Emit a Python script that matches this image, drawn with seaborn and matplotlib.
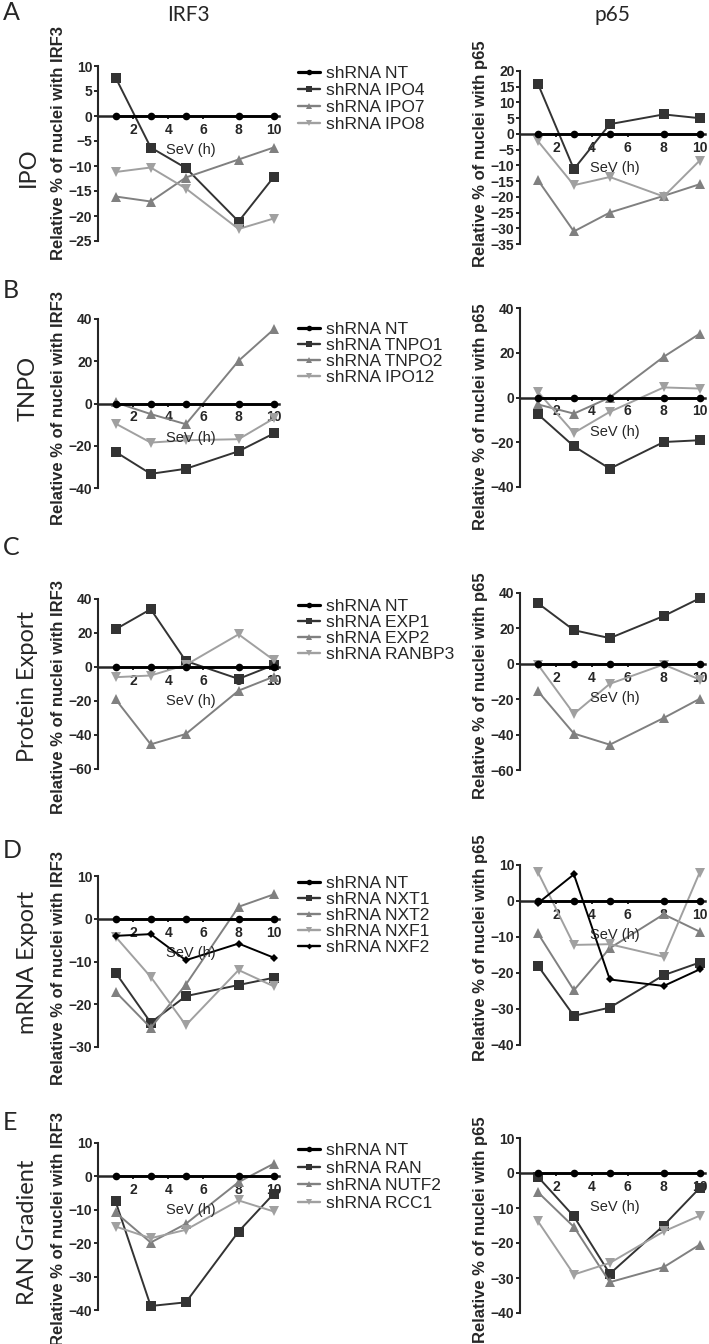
import matplotlib
matplotlib.use("Agg")
import pandas as pd
import seaborn as sns
import matplotlib.pyplot as plt
from matplotlib.lines import Line2D

# time points (SeV, hours)
hours = [1, 3, 5, 8, 10]

# A - IPO
ipo_names = ["shRNA NT", "shRNA IPO4", "shRNA IPO7", "shRNA IPO8"]
ipo_irf3 = [[0, 0, 0, 0, 0],
            [7.7, -6.3, -10.4, -21.1, -12.2],
            [-16.1, -17.1, -12.3, -8.7, -6.3],
            [-11.2, -10.3, -14.5, -22.6, -20.5]]
ipo_p65 = [[0, 0, 0, 0, 0],
           [15.9, -11.2, 3.1, 6.2, 5.0],
           [-14.7, -31.0, -25.0, -19.7, -16.0],
           [-2.3, -16.3, -13.7, -19.9, -8.5]]

# B - TNPO
tnpo_names = ["shRNA NT", "shRNA TNPO1", "shRNA TNPO2", "shRNA IPO12"]
tnpo_irf3 = [[0, 0, 0, 0, 0],
             [-22.9, -33.3, -30.9, -22.6, -14.2],
             [0.5, -5.0, -9.8, 20.2, 35.1],
             [-9.5, -18.5, -17.4, -16.9, -7.1]]
tnpo_p65 = [[0, 0, 0, 0, 0],
            [-7.5, -21.8, -31.8, -19.9, -19.1],
            [-3.1, -7.2, 0.0, 18.2, 28.5],
            [2.5, -15.8, -6.4, 4.5, 4.0]]

# C - Protein export
pexp_names = ["shRNA NT", "shRNA EXP1", "shRNA EXP2", "shRNA RANBP3"]
pexp_irf3 = [[0, 0, 0, 0, 0],
             [22.2, 34.0, 3.5, -7.0, 1.2],
             [-19.0, -45.5, -39.4, -13.9, -5.7],
             [-6.0, -5.0, 1.2, 19.2, 4.1]]
pexp_p65 = [[0, 0, 0, 0, 0],
            [34.2, 19.0, 14.5, 27.0, 37.0],
            [-15.5, -39.4, -45.7, -30.6, -19.8],
            [-0.5, -28.3, -11.3, -0.4, -8.9]]

# D - mRNA export
mexp_names = ["shRNA NT", "shRNA NXT1", "shRNA NXT2", "shRNA NXF1", "shRNA NXF2"]
mexp_irf3 = [[0, 0, 0, 0, 0],
             [-12.6, -24.3, -18.1, -15.5, -13.8],
             [-17.1, -25.5, -15.4, 2.8, 5.7],
             [-4.2, -13.6, -24.9, -12.0, -15.8],
             [-4.0, -3.6, -9.7, -5.8, -9.1]]
mexp_p65 = [[0, 0, 0, 0, 0],
            [-18.0, -31.9, -29.6, -20.6, -17.1],
            [-9.0, -24.8, -13.1, -3.7, -8.5],
            [8.0, -12.2, -12.0, -15.5, 7.9],
            [-0.6, 7.4, -21.8, -23.6, -19.0]]

# E - RAN gradient
ran_names = ["shRNA NT", "shRNA RAN", "shRNA NUTF2", "shRNA RCC1"]
ran_irf3 = [[0, 0, 0, 0, 0],
            [-7.5, -38.8, -37.7, -16.5, -5.2],
            [-10.8, -19.8, -14.2, -1.7, 3.8],
            [-15.0, -18.5, -16.0, -7.2, -10.5]]
ran_p65 = [[0, 0, 0, 0, 0],
           [-1.1, -12.4, -28.8, -15.0, -4.3],
           [-5.5, -15.4, -31.2, -26.9, -20.5],
           [-13.8, -29.0, -25.7, -16.7, -12.2]]

row_letters = ["A", "B", "C", "D", "E"]
row_titles = ["IPO", "TNPO", "Protein Export", "mRNA Export", "RAN Gradient"]

irf3_yticks = [list(range(-25, 11, 5)), list(range(-40, 41, 20)), list(range(-60, 41, 20)),
               list(range(-30, 11, 10)), list(range(-40, 11, 10))]
p65_yticks = [list(range(-35, 21, 5)), list(range(-40, 41, 20)), list(range(-60, 41, 20)),
              list(range(-40, 11, 10)), list(range(-40, 11, 10))]

sns.set_style("ticks")
plt.rcParams["font.family"] = ["Liberation Sans", "DejaVu Sans"]

W, H = 709, 1344
fig = plt.figure(figsize=(W / 100, H / 100), dpi=100)
fig.patch.set_facecolor("white")

colors = ["#000000", "#333333", "#808080", "#a0a0a0", "#000000"]
markers = ["o", "s", "^", "v", "D"]
msizes = [5.5, 6.5, 6.5, 6.5, 4.5]
lwidths = [2.0, 1.4, 1.4, 1.4, 1.4]

# axes extents in pixels: (top, bottom) for left (IRF3) and right (p65) panels
left_px = [(66, 241), (319, 488), (599, 769), (876, 1047), (1143, 1310)]
right_px = [(71, 244), (308, 487), (593, 770), (865, 1045), (1138, 1313)]
ylab_left = [143, 408, 697, 968, 1229]
ylab_right = [154, 417, 686, 948, 1230]
letter_y = [12, 290, 547, 851, 1122]
rowlab_y = [167, 388, 687, 962, 1232]
legend_top = [66, 322, 599, 876, 1143]
legend_spacing = [0.1, 0.05, 0.05, 0.05, 0.14]


def add_axes_px(x0, x1, top, bottom):
    return fig.add_axes([x0 / W, 1 - bottom / H, (x1 - x0) / W, (bottom - top) / H])


def draw_panel(ax, names, values, yticks):
    for i, (name, vals) in enumerate(zip(names, values)):
        df = pd.DataFrame({"SeV": hours, "value": vals})
        sns.lineplot(data=df, x="SeV", y="value", ax=ax, color=colors[i], marker=markers[i],
                     markersize=msizes[i], markeredgewidth=0, linewidth=lwidths[i],
                     errorbar=None, legend=False, zorder=3 if i == 0 else 2)
    for ln in ax.lines:
        ln.set_clip_on(False)
    ax.set_xlim(0, 10.3)
    ax.set_ylim(yticks[0], yticks[-1])
    ax.set_xticks([2, 4, 6, 8, 10])
    ax.set_yticks(yticks)
    ax.set_xlabel("")
    ax.set_ylabel("")
    ax.spines["top"].set_visible(False)
    ax.spines["right"].set_visible(False)
    ax.spines["bottom"].set_position(("data", 0))
    ax.spines["bottom"].set_linewidth(1.8)
    ax.spines["left"].set_linewidth(1.5)
    ax.tick_params(axis="y", length=3, width=1.4, pad=1, labelsize=10)
    ax.tick_params(axis="x", length=2.5, width=1.4, pad=2.5, labelsize=10)
    for lab in ax.get_xticklabels() + ax.get_yticklabels():
        lab.set_fontweight("bold")
    ax.annotate("SeV (h)", xy=(5.3, 0), xycoords="data", xytext=(0, -24.5),
                textcoords="offset points", ha="center", va="center", fontsize=10.5)
    ax.set_facecolor("none")


panels = [(ipo_names, ipo_irf3, ipo_p65), (tnpo_names, tnpo_irf3, tnpo_p65),
          (pexp_names, pexp_irf3, pexp_p65), (mexp_names, mexp_irf3, mexp_p65),
          (ran_names, ran_irf3, ran_p65)]

for r, (names, irf3, p65) in enumerate(panels):
    axL = add_axes_px(98, 279, *left_px[r])
    axR = add_axes_px(520, 705, *right_px[r])
    draw_panel(axL, names, irf3, irf3_yticks[r])
    draw_panel(axR, names, p65, p65_yticks[r])

    fig.text(59 / W, 1 - ylab_left[r] / H, "Relative % of nuclei with IRF3", rotation=90,
             ha="center", va="center", fontsize=12, fontweight="bold")
    fig.text(481 / W, 1 - ylab_right[r] / H, "Relative % of nuclei with p65", rotation=90,
             ha="center", va="center", fontsize=12, fontweight="bold")

    fig.text(3 / W, 1 - letter_y[r] / H, row_letters[r], ha="left", va="center",
             fontsize=18, family=["Lato", "DejaVu Sans"])
    fig.text(28 / W, 1 - rowlab_y[r] / H, row_titles[r], rotation=90, ha="center",
             va="center", fontsize=17, family=["Lato", "DejaVu Sans"])

    handles = [Line2D([0], [0], color=colors[i], marker=markers[i], markersize=msizes[i] - 1.5,
                      markeredgewidth=0, linewidth=lwidths[i] + 0.3) for i in range(len(names))]
    fig.legend(handles, names, loc="upper left",
               bbox_to_anchor=(298 / W, 1 - legend_top[r] / H), bbox_transform=fig.transFigure,
               frameon=False, fontsize=12.5, handlelength=1.25, handletextpad=0.35,
               borderpad=0, borderaxespad=0, labelspacing=legend_spacing[r])

fig.text(188 / W, 1 - 15 / H, "IRF3", ha="center", va="center", fontsize=15,
         family=["Lato", "DejaVu Sans"])
fig.text(612 / W, 1 - 15 / H, "p65", ha="center", va="center", fontsize=15,
         family=["Lato", "DejaVu Sans"])

fig.savefig("out.png", dpi=100, facecolor="white")
